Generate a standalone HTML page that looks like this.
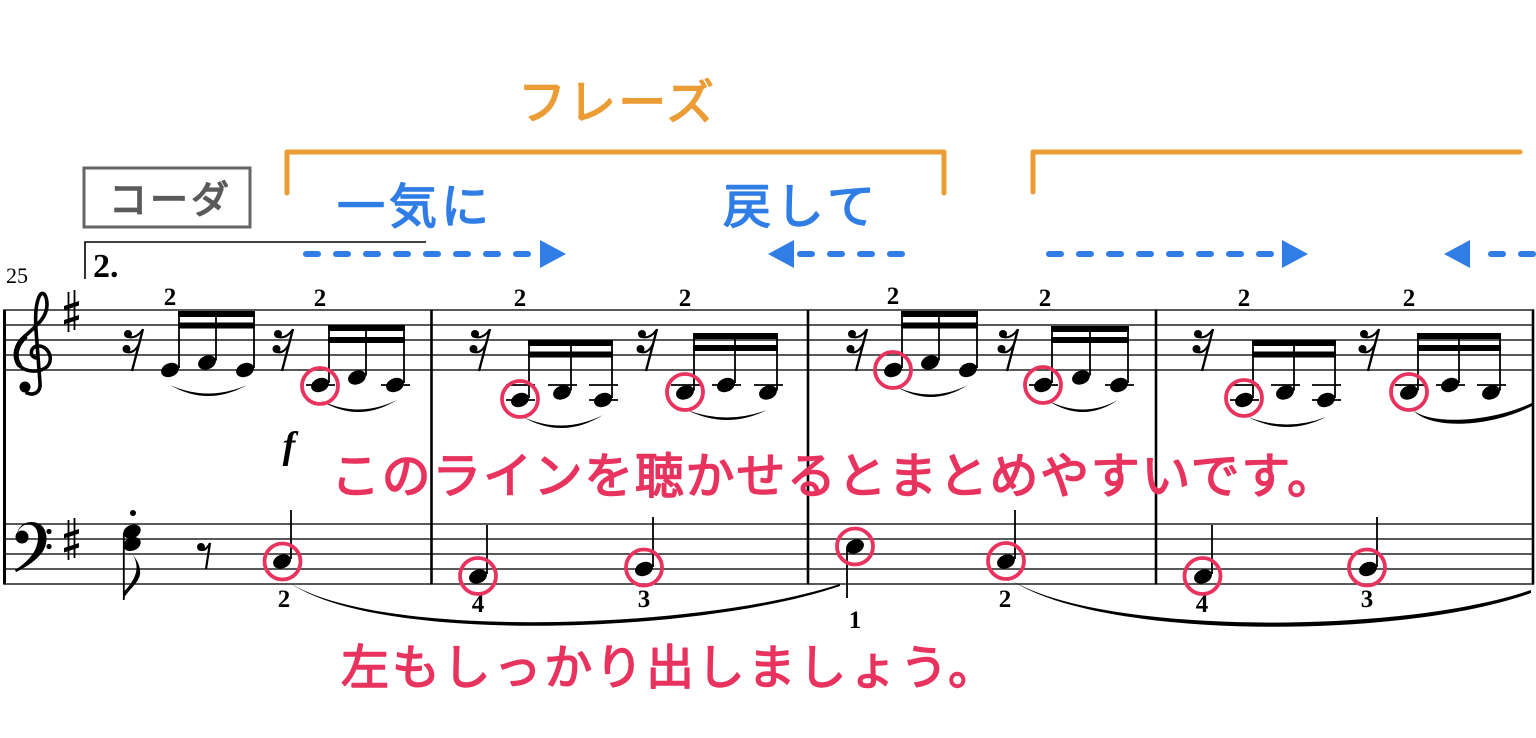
<!DOCTYPE html>
<html><head><meta charset="utf-8">
<style>
html,body{margin:0;padding:0;background:#fff;}
svg{display:block;}
.jp{font-family:"Liberation Sans","Noto Sans CJK JP",sans-serif;font-weight:normal;stroke-width:1.5px;stroke-linejoin:round;stroke-linecap:round;}
.fg{font-family:"Liberation Serif",serif;font-weight:bold;font-size:25px;text-anchor:middle;fill:#000;}
</style></head><body>
<svg width="1536" height="738" viewBox="0 0 1536 738" xmlns="http://www.w3.org/2000/svg">
<rect width="1536" height="738" fill="#fff"/>

<!-- Annotations top -->
<text class="jp" x="518" y="119" font-size="48" fill="#EB9C34" stroke="#EB9C34" textLength="196" lengthAdjust="spacing">フレーズ</text>
<path d="M287,193 L287,152 L944,152 L944,193" fill="none" stroke="#EB9C34" stroke-width="5" stroke-linecap="round" stroke-linejoin="round"/>
<path d="M1033,192 L1033,152 L1520,152" fill="none" stroke="#EB9C34" stroke-width="5" stroke-linecap="round" stroke-linejoin="round"/>

<rect x="84" y="168" width="166" height="59" fill="none" stroke="#666" stroke-width="3"/>
<text class="jp" x="109" y="213" font-size="38" fill="#5a5a5a" stroke="#5a5a5a" textLength="120" lengthAdjust="spacing">コーダ</text>

<text class="jp" x="337" y="223" font-size="48" fill="#2F7DE5" stroke="#2F7DE5" textLength="152" lengthAdjust="spacing">一気に</text>
<text class="jp" x="723" y="223" font-size="48" fill="#2F7DE5" stroke="#2F7DE5" textLength="152" lengthAdjust="spacing">戻して</text>

<!-- blue dashed arrows -->
<g stroke="#2F7DE5" stroke-width="6" stroke-linecap="round" fill="none" stroke-dasharray="12 18">
<path d="M306,254 L532,254"/>
<path d="M902,254 L800,254"/>
<path d="M1049,254 L1276,254"/>
<path d="M1533,254 L1476,254"/>
</g>
<g fill="#2F7DE5">
<polygon points="540,240 566,254 540,268"/>
<polygon points="794,240 768,254 794,268"/>
<polygon points="1282,240 1308,254 1282,268"/>
<polygon points="1470,240 1444,254 1470,268"/>
</g>

<!-- volta -->
<path d="M85,279 L85,242 L426,242" fill="none" stroke="#000" stroke-width="1.6"/>
<text x="93" y="277" font-family="Liberation Serif, serif" font-weight="bold" font-size="34" fill="#000">2.</text>
<text x="6" y="283" font-family="Liberation Serif, serif" font-size="22" fill="#000">25</text>

<!-- staves -->
<g stroke="#222" stroke-width="1.6">
<line x1="4" y1="310" x2="1534" y2="310"/>
<line x1="4" y1="325" x2="1534" y2="325"/>
<line x1="4" y1="340" x2="1534" y2="340"/>
<line x1="4" y1="355" x2="1534" y2="355"/>
<line x1="4" y1="370" x2="1534" y2="370"/>
<line x1="4" y1="524" x2="1534" y2="524"/>
<line x1="4" y1="539" x2="1534" y2="539"/>
<line x1="4" y1="554" x2="1534" y2="554"/>
<line x1="4" y1="569" x2="1534" y2="569"/>
<line x1="4" y1="584" x2="1534" y2="584"/>
</g>
<g stroke="#000" stroke-width="2.6">
<line x1="4.5" y1="309.5" x2="4.5" y2="584.5" stroke-width="3"/>
<line x1="431.5" y1="309.5" x2="431.5" y2="584.5"/>
<line x1="808" y1="309.5" x2="808" y2="584.5"/>
<line x1="1156" y1="309.5" x2="1156" y2="584.5"/>
<line x1="1533" y1="309.5" x2="1533" y2="584.5"/>
</g>

<!-- treble clef -->
<path d="M37,358 C30,358 29,348 37,346 C47,345 53,356 49,364 C45,372 28,374 20,366 C12,357 15,344 25,336 C35,327 47,318 47,305 C47,295 43,291 40,295 C36,302 35,315 36,330 L40,383 C41,392 34,396 27,393" fill="none" stroke="#000" stroke-width="3.6" stroke-linecap="round"/>
<path d="M20,366 C13,357 16,345 26,336" fill="none" stroke="#000" stroke-width="5"/>
<circle cx="25" cy="387" r="5.5" fill="#000"/>

<!-- sharps -->
<line x1="68.5" y1="292" x2="68.5" y2="332" stroke="#000" stroke-width="1.8"/>
<line x1="74.5" y1="290" x2="74.5" y2="330" stroke="#000" stroke-width="1.8"/>
<polygon points="64,306 79,301 79,305.5 64,310.5" fill="#000"/>
<polygon points="64,320 79,315 79,319.5 64,324.5" fill="#000"/>
<line x1="68.5" y1="520" x2="68.5" y2="560" stroke="#000" stroke-width="1.8"/>
<line x1="74.5" y1="518" x2="74.5" y2="558" stroke="#000" stroke-width="1.8"/>
<polygon points="64,534 79,529 79,533.5 64,538.5" fill="#000"/>
<polygon points="64,548 79,543 79,547.5 64,552.5" fill="#000"/>

<!-- bass clef -->
<path d="M17,534 C19,522 33,519 41,525 C49,532 48,547 40,555 C33,563 24,568 16,572 L15,570 C23,565 31,558 35,550 C40,540 39,527 31,525 C25,523 19,527 17,534 Z" fill="#000"/>
<circle cx="22" cy="537" r="6.5" fill="#000"/>
<circle cx="49" cy="531.5" r="2.6" fill="#000"/>
<circle cx="49" cy="546.5" r="2.6" fill="#000"/>

<!-- bass chord -->
<g fill="#000">
<ellipse cx="132" cy="531.5" rx="9" ry="6.6" transform="rotate(-22 132 531.5)"/>
<ellipse cx="132" cy="544" rx="9" ry="6.6" transform="rotate(-22 132 544)"/>
<circle cx="133" cy="513" r="3"/>
</g>
<line x1="123.8" y1="533" x2="123.8" y2="600" stroke="#000" stroke-width="1.8"/>
<path d="M123,600 C127,590 142,582 140,570 C139,562 135,558 133,555 C137,562 138,570 134,578 C131,584 126,590 123,592 Z" fill="#000"/>

<!-- eighth rest bass -->
<circle cx="201" cy="547" r="4" fill="#000"/>
<path d="M201,550 Q206,551 210,543" fill="none" stroke="#000" stroke-width="2"/>
<line x1="210" y1="543" x2="206" y2="569" stroke="#000" stroke-width="2.2"/>

<!-- 16th rests -->
<g fill="#000">
<g transform="translate(123 0)"><line x1="20" y1="329" x2="9" y2="371" stroke="#000" stroke-width="2.4"/><circle cx="5" cy="334" r="4"/><path d="M5,337 Q13,339 19.5,330" stroke="#000" stroke-width="2" fill="none"/><circle cx="3.5" cy="349" r="4"/><path d="M3.5,352 Q11,354 16,344" stroke="#000" stroke-width="2" fill="none"/></g>
<g transform="translate(273 0)"><line x1="20" y1="329" x2="9" y2="371" stroke="#000" stroke-width="2.4"/><circle cx="5" cy="334" r="4"/><path d="M5,337 Q13,339 19.5,330" stroke="#000" stroke-width="2" fill="none"/><circle cx="3.5" cy="349" r="4"/><path d="M3.5,352 Q11,354 16,344" stroke="#000" stroke-width="2" fill="none"/></g>
<g transform="translate(470 0)"><line x1="20" y1="329" x2="9" y2="371" stroke="#000" stroke-width="2.4"/><circle cx="5" cy="334" r="4"/><path d="M5,337 Q13,339 19.5,330" stroke="#000" stroke-width="2" fill="none"/><circle cx="3.5" cy="349" r="4"/><path d="M3.5,352 Q11,354 16,344" stroke="#000" stroke-width="2" fill="none"/></g>
<g transform="translate(637 0)"><line x1="20" y1="329" x2="9" y2="371" stroke="#000" stroke-width="2.4"/><circle cx="5" cy="334" r="4"/><path d="M5,337 Q13,339 19.5,330" stroke="#000" stroke-width="2" fill="none"/><circle cx="3.5" cy="349" r="4"/><path d="M3.5,352 Q11,354 16,344" stroke="#000" stroke-width="2" fill="none"/></g>
<g transform="translate(847 0)"><line x1="20" y1="329" x2="9" y2="371" stroke="#000" stroke-width="2.4"/><circle cx="5" cy="334" r="4"/><path d="M5,337 Q13,339 19.5,330" stroke="#000" stroke-width="2" fill="none"/><circle cx="3.5" cy="349" r="4"/><path d="M3.5,352 Q11,354 16,344" stroke="#000" stroke-width="2" fill="none"/></g>
<g transform="translate(998 0)"><line x1="20" y1="329" x2="9" y2="371" stroke="#000" stroke-width="2.4"/><circle cx="5" cy="334" r="4"/><path d="M5,337 Q13,339 19.5,330" stroke="#000" stroke-width="2" fill="none"/><circle cx="3.5" cy="349" r="4"/><path d="M3.5,352 Q11,354 16,344" stroke="#000" stroke-width="2" fill="none"/></g>
<g transform="translate(1193 0)"><line x1="20" y1="329" x2="9" y2="371" stroke="#000" stroke-width="2.4"/><circle cx="5" cy="334" r="4"/><path d="M5,337 Q13,339 19.5,330" stroke="#000" stroke-width="2" fill="none"/><circle cx="3.5" cy="349" r="4"/><path d="M3.5,352 Q11,354 16,344" stroke="#000" stroke-width="2" fill="none"/></g>
<g transform="translate(1359 0)"><line x1="20" y1="329" x2="9" y2="371" stroke="#000" stroke-width="2.4"/><circle cx="5" cy="334" r="4"/><path d="M5,337 Q13,339 19.5,330" stroke="#000" stroke-width="2" fill="none"/><circle cx="3.5" cy="349" r="4"/><path d="M3.5,352 Q11,354 16,344" stroke="#000" stroke-width="2" fill="none"/></g>
</g>

<!-- ledger lines -->
<g stroke="#000" stroke-width="1.8">
<line x1="306" y1="385" x2="335" y2="385"/><line x1="381" y1="385" x2="410" y2="385"/>
<line x1="506" y1="385" x2="535" y2="385"/><line x1="548" y1="385" x2="577" y2="385"/><line x1="589" y1="385" x2="618" y2="385"/>
<line x1="506" y1="400" x2="535" y2="400"/><line x1="589" y1="400" x2="618" y2="400"/>
<line x1="671" y1="385" x2="700" y2="385"/><line x1="712" y1="385" x2="741" y2="385"/><line x1="754" y1="385" x2="783" y2="385"/>
<line x1="1029" y1="385" x2="1058" y2="385"/><line x1="1105" y1="385" x2="1134" y2="385"/>
<line x1="1230" y1="385" x2="1259" y2="385"/><line x1="1271" y1="385" x2="1300" y2="385"/><line x1="1312" y1="385" x2="1341" y2="385"/>
<line x1="1230" y1="400" x2="1259" y2="400"/><line x1="1312" y1="400" x2="1341" y2="400"/>
<line x1="1395" y1="385" x2="1424" y2="385"/><line x1="1436" y1="385" x2="1465" y2="385"/><line x1="1477" y1="385" x2="1506" y2="385"/>
</g>

<!-- treble noteheads -->
<g fill="#000">
<ellipse cx="170" cy="370" rx="9.2" ry="6.8" transform="rotate(-22 170 370)"/>
<ellipse cx="207" cy="362.5" rx="9.2" ry="6.8" transform="rotate(-22 207 362.5)"/>
<ellipse cx="245" cy="370" rx="9.2" ry="6.8" transform="rotate(-22 245 370)"/>
<ellipse cx="320" cy="385" rx="9.2" ry="6.8" transform="rotate(-22 320 385)"/>
<ellipse cx="357" cy="377.5" rx="9.2" ry="6.8" transform="rotate(-22 357 377.5)"/>
<ellipse cx="395" cy="385" rx="9.2" ry="6.8" transform="rotate(-22 395 385)"/>
<ellipse cx="520" cy="400" rx="9.2" ry="6.8" transform="rotate(-22 520 400)"/>
<ellipse cx="562" cy="392.5" rx="9.2" ry="6.8" transform="rotate(-22 562 392.5)"/>
<ellipse cx="603" cy="400" rx="9.2" ry="6.8" transform="rotate(-22 603 400)"/>
<ellipse cx="685" cy="392.5" rx="9.2" ry="6.8" transform="rotate(-22 685 392.5)"/>
<ellipse cx="726" cy="385" rx="9.2" ry="6.8" transform="rotate(-22 726 385)"/>
<ellipse cx="768" cy="392.5" rx="9.2" ry="6.8" transform="rotate(-22 768 392.5)"/>
<ellipse cx="893" cy="370" rx="9.2" ry="6.8" transform="rotate(-22 893 370)"/>
<ellipse cx="930" cy="362.5" rx="9.2" ry="6.8" transform="rotate(-22 930 362.5)"/>
<ellipse cx="968" cy="370" rx="9.2" ry="6.8" transform="rotate(-22 968 370)"/>
<ellipse cx="1043" cy="385" rx="9.2" ry="6.8" transform="rotate(-22 1043 385)"/>
<ellipse cx="1081" cy="377.5" rx="9.2" ry="6.8" transform="rotate(-22 1081 377.5)"/>
<ellipse cx="1119" cy="385" rx="9.2" ry="6.8" transform="rotate(-22 1119 385)"/>
<ellipse cx="1244" cy="400" rx="9.2" ry="6.8" transform="rotate(-22 1244 400)"/>
<ellipse cx="1285" cy="392.5" rx="9.2" ry="6.8" transform="rotate(-22 1285 392.5)"/>
<ellipse cx="1326" cy="400" rx="9.2" ry="6.8" transform="rotate(-22 1326 400)"/>
<ellipse cx="1409" cy="392.5" rx="9.2" ry="6.8" transform="rotate(-22 1409 392.5)"/>
<ellipse cx="1450" cy="385" rx="9.2" ry="6.8" transform="rotate(-22 1450 385)"/>
<ellipse cx="1491" cy="392.5" rx="9.2" ry="6.8" transform="rotate(-22 1491 392.5)"/>
</g>

<!-- treble stems -->
<g stroke="#000" stroke-width="1.8">
<line x1="179" y1="368" x2="179" y2="311"/><line x1="216" y1="360.5" x2="216" y2="311"/><line x1="254" y1="368" x2="254" y2="311"/>
<line x1="329" y1="383" x2="329" y2="325"/><line x1="366" y1="375.5" x2="366" y2="325"/><line x1="404" y1="383" x2="404" y2="325"/>
<line x1="529" y1="398" x2="529" y2="340"/><line x1="571" y1="390.5" x2="571" y2="340"/><line x1="612" y1="398" x2="612" y2="340"/>
<line x1="694" y1="390.5" x2="694" y2="333"/><line x1="735" y1="383" x2="735" y2="333"/><line x1="777" y1="390.5" x2="777" y2="333"/>
<line x1="902" y1="368" x2="902" y2="311"/><line x1="939" y1="360.5" x2="939" y2="311"/><line x1="977" y1="368" x2="977" y2="311"/>
<line x1="1052" y1="383" x2="1052" y2="326"/><line x1="1090" y1="375.5" x2="1090" y2="326"/><line x1="1128" y1="383" x2="1128" y2="326"/>
<line x1="1253" y1="398" x2="1253" y2="340"/><line x1="1294" y1="390.5" x2="1294" y2="340"/><line x1="1335" y1="398" x2="1335" y2="340"/>
<line x1="1418" y1="390.5" x2="1418" y2="333"/><line x1="1459" y1="383" x2="1459" y2="333"/><line x1="1500" y1="390.5" x2="1500" y2="333"/>
</g>

<!-- beams -->
<g fill="#000">
<rect x="178" y="311" width="77" height="6"/><rect x="178" y="322.5" width="77" height="6"/>
<rect x="328" y="325" width="77" height="6"/><rect x="328" y="337" width="77" height="6"/>
<rect x="528" y="340" width="85" height="6"/><rect x="528" y="351.5" width="85" height="6"/>
<rect x="693" y="333" width="85" height="6"/><rect x="693" y="345" width="85" height="6"/>
<rect x="901" y="311" width="77" height="6"/><rect x="901" y="322.5" width="77" height="6"/>
<rect x="1051" y="326" width="78" height="6"/><rect x="1051" y="337" width="78" height="6"/>
<rect x="1252" y="340" width="84" height="6"/><rect x="1252" y="351.5" width="84" height="6"/>
<rect x="1417" y="333" width="84" height="6"/><rect x="1417" y="345" width="84" height="6"/>
</g>

<!-- treble slurs -->
<g fill="#000">
<path d="M170,385 Q208,407 247,385 Q208,402 170,385 Z"/>
<path d="M320,400 Q358,424 397,400 Q358,419 320,400 Z"/>
<path d="M523,417 Q563,440 603,415 Q563,435 523,417 Z"/>
<path d="M687,410 Q727,430 767,410 Q727,425 687,410 Z"/>
<path d="M897,387 Q932,408 968,385 Q932,403 897,387 Z"/>
<path d="M1047,400 Q1083,424 1118,400 Q1083,419 1047,400 Z"/>
<path d="M1248,417 Q1287,437 1326,417 Q1287,432 1248,417 Z"/>
<path d="M1413,410 C1430,430 1490,428 1534,405 L1534,402 C1490,423 1430,425 1413,410 Z"/>
</g>

<!-- fingerings treble -->
<text class="fg" x="170" y="305">2</text>
<text class="fg" x="320" y="306">2</text>
<text class="fg" x="520" y="306">2</text>
<text class="fg" x="685" y="306">2</text>
<text class="fg" x="893" y="304">2</text>
<text class="fg" x="1045" y="306">2</text>
<text class="fg" x="1244" y="306">2</text>
<text class="fg" x="1409" y="306">2</text>

<!-- dynamic -->
<text x="289" y="458" font-family="Liberation Serif, serif" font-weight="bold" font-style="italic" font-size="38" text-anchor="middle" fill="#000">f</text>

<!-- bass notes -->
<g fill="#000">
<ellipse cx="282" cy="561.5" rx="9.2" ry="6.8" transform="rotate(-22 282 561.5)"/>
<ellipse cx="478" cy="576.5" rx="9.2" ry="6.8" transform="rotate(-22 478 576.5)"/>
<ellipse cx="644" cy="569" rx="9.2" ry="6.8" transform="rotate(-22 644 569)"/>
<ellipse cx="855" cy="546.5" rx="9.2" ry="6.8" transform="rotate(-22 855 546.5)"/>
<ellipse cx="1006" cy="561.5" rx="9.2" ry="6.8" transform="rotate(-22 1006 561.5)"/>
<ellipse cx="1203" cy="576.5" rx="9.2" ry="6.8" transform="rotate(-22 1203 576.5)"/>
<ellipse cx="1368" cy="569" rx="9.2" ry="6.8" transform="rotate(-22 1368 569)"/>
</g>
<g stroke="#000" stroke-width="1.8">
<line x1="291" y1="559" x2="291" y2="510"/>
<line x1="487" y1="574" x2="487" y2="525"/>
<line x1="653" y1="567" x2="653" y2="517"/>
<line x1="847" y1="549" x2="847" y2="598"/>
<line x1="1015" y1="559" x2="1015" y2="510"/>
<line x1="1212" y1="574" x2="1212" y2="525"/>
<line x1="1377" y1="567" x2="1377" y2="517"/>
</g>

<!-- bass slurs -->
<g fill="#000">
<path d="M290,583 C380,640 700,630 840,584 L840,586 C700,634 380,645 290,583 Z"/>
<path d="M1011,580 C1100,635 1400,635 1531,590 L1531,593 C1400,640 1100,640 1011,580 Z"/>
</g>

<!-- fingerings bass -->
<text class="fg" x="284" y="607">2</text>
<text class="fg" x="478" y="612">4</text>
<text class="fg" x="644" y="607">3</text>
<text class="fg" x="855" y="628">1</text>
<text class="fg" x="1005" y="607">2</text>
<text class="fg" x="1202" y="612">4</text>
<text class="fg" x="1367" y="607">3</text>

<!-- red circles -->
<g fill="none" stroke="#E8335F" stroke-width="3.8">
<circle cx="320" cy="386" r="18"/>
<circle cx="520" cy="399" r="18"/>
<circle cx="685" cy="392" r="18"/>
<circle cx="893" cy="370" r="18"/>
<circle cx="1043" cy="385" r="18"/>
<circle cx="1244" cy="398" r="18"/>
<circle cx="1409" cy="392" r="18"/>
<circle cx="282.5" cy="561.5" r="18"/>
<circle cx="478" cy="576" r="18"/>
<circle cx="644" cy="567.5" r="18"/>
<circle cx="855" cy="546.5" r="18"/>
<circle cx="1006" cy="561" r="18"/>
<circle cx="1202.5" cy="576" r="18"/>
<circle cx="1367" cy="567.5" r="18"/>
</g>

<!-- pink annotations -->
<text class="jp" x="331" y="493" font-size="49" fill="#E8335F" stroke="#E8335F" textLength="1005" lengthAdjust="spacing">このラインを聴かせるとまとめやすいです。</text>
<text class="jp" x="341" y="684" font-size="48" fill="#E8335F" stroke="#E8335F" textLength="655" lengthAdjust="spacing">左もしっかり出しましょう。</text>

</svg>
</body></html>
